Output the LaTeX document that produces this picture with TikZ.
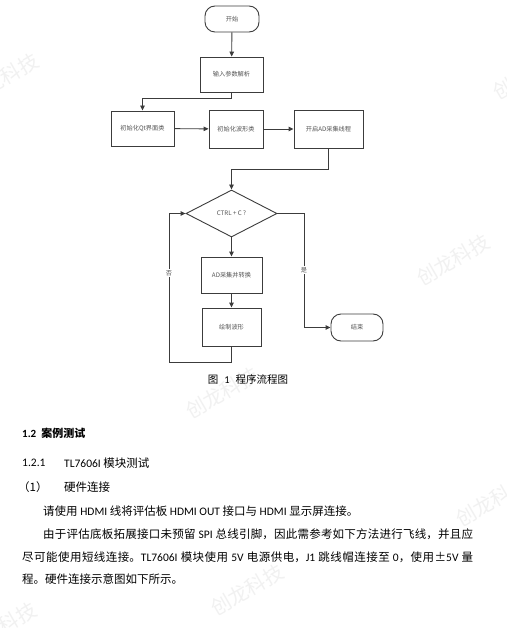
\documentclass[tikz,border=0pt]{standalone}
\usepackage{fontspec}
\setmainfont{Noto Sans CJK SC}
\newfontfamily\lat{Carlito}
\XeTeXlinebreaklocale "zh"
\XeTeXlinebreakskip=0pt plus 1pt
\newcommand{\jline}[2]{\parbox{#1}{\parindent=0pt\parfillskip=0pt #2}}
\usetikzlibrary{arrows.meta,shapes.geometric}
\definecolor{ln}{HTML}{3C3C3C}
\definecolor{tx}{HTML}{555555}
\definecolor{wm}{HTML}{F1F1F1}
\begin{document}
\begin{tikzpicture}[x=1pt,y=-1pt,
 box/.style={draw=ln,line width=0.9pt,inner sep=0pt,text=tx,font=\fontsize{6.2}{7}\selectfont},
 term/.style={box,rounded corners=10pt},
 conn/.style={draw=ln,line width=0.9pt,-{Triangle[length=5pt,width=4.5pt]}},
 wmark/.style={text=wm,font=\fontsize{20}{20}\selectfont,rotate=30,inner sep=0pt},
 body/.style={anchor=west,inner sep=0pt,font=\fontsize{11.5}{12}\selectfont},
 lbl/.style={fill=white,inner sep=1pt,text=tx,font=\fontsize{6.2}{7}\selectfont}]
\useasboundingbox[fill=white] (0,0) rectangle (506,628);
% watermarks
\node[wmark] (w1) at (2,79) {创龙科技};
\node[wmark] (w2) at (529,74) {创龙科技};
\node[wmark] (w3) at (453,260) {创龙科技};
\node[wmark] (w4) at (222,393) {创龙科技};
\node[wmark] (w5) at (247,590) {创龙科技};
\node[wmark] (w6) at (0,628) {创龙科技};
\node[wmark] (w7) at (492,501) {创龙科技};
% flowchart nodes
\node[term,minimum width=54pt,minimum height=26pt] (start) at (232,19) {开始};
\node[box,minimum width=63pt,minimum height=35pt] (parse) at (231.5,74.5) {输入参数解析};
\node[box,minimum width=63pt,minimum height=35pt] (initqt) at (142.5,128.5) {初始化Qt界面类};
\node[box,minimum width=54pt,minimum height=38pt] (initwave) at (236,129) {初始化波形类};
\node[box,minimum width=69pt,minimum height=38pt] (adthread) at (328.5,129) {开启AD采集线程};
\node[box,shape=diamond,minimum width=91pt,minimum height=47pt] (dec) at (231.5,213.5) {CTRL + C ?};
\node[box,minimum width=61pt,minimum height=36pt] (adconv) at (231.5,275) {AD采集并转换};
\node[box,minimum width=59pt,minimum height=38pt] (drawwave) at (231.5,327) {绘制波形};
\node[term,minimum width=52pt,minimum height=27pt] (endn) at (357,327.5) {结束};
% connectors
\draw[conn] (start) -- (parse);
\draw[conn] (parse.south) -- ++(0,6) -| (initqt.north);
\draw[conn] (initqt) -- (initwave);
\draw[conn] (initwave) -- (adthread);
\draw[conn] (adthread.south) -- ++(0,21) -| (dec.north);
\draw[conn] (dec) -- (adconv);
\draw[conn] (adconv) -- (drawwave);
\coordinate (lp) at (169,362);
\draw[conn] (drawwave.south) |- (lp) |- (dec.west);
\coordinate (rp) at (304,213.5);
\draw[conn] (dec.east) -- (rp) |- (endn.west);
\node[lbl] (no) at (169,273) {否};
\node[lbl] (yes) at (304,270) {是};
% caption
\node[inner sep=0pt,font=\fontsize{10.5}{12}\selectfont] (cap) at (248,379) {图\hspace{6pt}{\lat 1}\hspace{6pt}程序流程图};
% text
\node[body,font=\bfseries\fontsize{11}{12}\selectfont] (h12) at (22,433) {{\lat 1.2}\hspace{5pt}案例测试};
\node[body] (h121) at (22,463) {{\lat 1.2.1}};
\node[body] (h121t) at (64,463) {{\lat TL7606I} 模块测试};
\node[body] (h1) at (18,487) {（1）};
\node[body] (h1t) at (64,487) {硬件连接};
\node[body] (p1) at (43,511) {请使用 {\lat HDMI} 线将评估板 {\lat HDMI OUT} 接口与 {\lat HDMI} 显示屏连接。};
\node[body] (p2a) at (43,534) {\jline{430pt}{由于评估底板拓展接口未预留 {\lat SPI} 总线引脚，因此需参考如下方法进行飞线，并且应}};
\node[body] (p2b) at (22,557) {\jline{451pt}{尽可能使用短线连接。{\lat TL7606I} 模块使用 {\lat 5V} 电源供电，{\lat J1} 跳线帽连接至 {\lat 0}，使用±{\lat 5V} 量}};
\node[body] (p2c) at (22,579) {程。硬件连接示意图如下所示。};
\end{tikzpicture}
\end{document}
